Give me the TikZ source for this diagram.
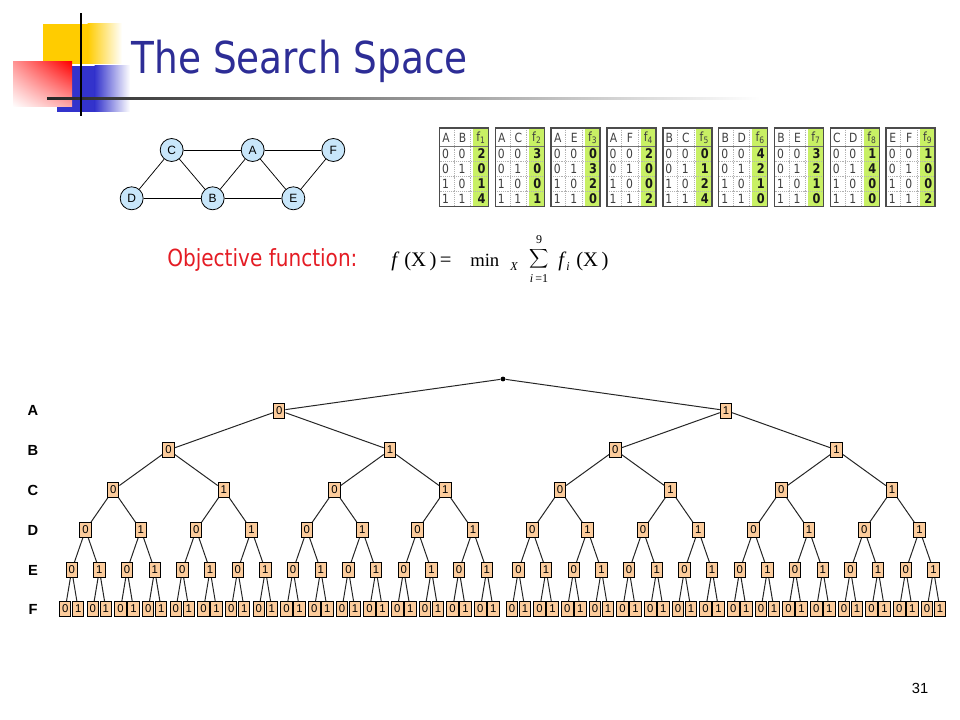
\documentclass[tikz,border=0pt]{standalone}
\usepackage{fontspec}
\usetikzlibrary{shadings}
\setmainfont{Liberation Sans}
\newfontfamily\tah[FakeStretch=0.85]{DejaVu Sans}
\newfontfamily\tms{Liberation Serif}
\definecolor{titleblue}{RGB}{45,45,150}
\definecolor{objred}{RGB}{228,28,36}
\definecolor{boxfill}{RGB}{252,204,156}
\definecolor{nodeblue}{RGB}{200,230,250}
\definecolor{tgreen}{RGB}{200,240,100}
\definecolor{logoyellow}{RGB}{255,204,0}
\definecolor{logoblue}{RGB}{51,51,204}
\definecolor{redul}{RGB}{255,150,150}
\definecolor{redlr}{RGB}{255,170,170}
\begin{document}
\begin{tikzpicture}[x=0.75pt,y=-0.75pt,
  tbox/.style={draw=black, line width=0.7pt, fill=boxfill, minimum width=8.6pt, minimum height=11.2pt, inner sep=0pt, font=\fontsize{8.5}{9}\selectfont},
  gnode/.style={circle, draw=black, line width=0.6pt, fill=nodeblue, minimum size=17.25pt, inner sep=0pt, font=\fontsize{9}{10}\selectfont},
  tedge/.style={line width=0.75pt, draw=black!85},
  gedge/.style={line width=0.55pt},
  lvl/.style={font=\bfseries\fontsize{11}{12}\selectfont},
  tcell/.style={inner sep=0pt, text=black!75, font=\tah\fontsize{9.5}{10}\selectfont},
  tval/.style={inner sep=0pt, text=black!90, font=\tah\bfseries\fontsize{10}{11}\selectfont},
  frm/.style={inner sep=0pt, anchor=base west, font=\tms\fontsize{15.5}{17}\selectfont},
  frms/.style={inner sep=0pt, anchor=base, font=\tms\fontsize{9}{10}\selectfont},
]
\useasboundingbox (0,0) rectangle (960,720);
% ---------- logo ----------
\fill[logoyellow] (43,24) rectangle (88,64);
\shade[left color=logoyellow, right color=white] (87.5,24) rectangle (122,64);
\fill[logoblue] (57,66) rectangle (95,112);
\shade[left color=logoblue, right color=white] (94.5,66) rectangle (130,112);
\shade[upper left=redul, upper right=red, lower left=white, lower right=redlr] (13,62) rectangle (72,107);
\shade[left color=black!85, right color=white] (47,97.2) rectangle (760,99.6);
\fill[black] (80,13) rectangle (82.2,116);
% ---------- title ----------
\node[inner sep=0pt, anchor=base west, text=titleblue, font=\tah\fontsize{33}{36}\selectfont] (title) at (131.5,73.3) {The Search Space};
% ---------- constraint graph ----------
\node[gnode] (C) at (171.7,150) {C};
\node[gnode] (A) at (252.7,150) {A};
\node[gnode] (F) at (333.3,150) {F};
\node[gnode] (D) at (131.7,198.3) {D};
\node[gnode] (B) at (212.7,198.3) {B};
\node[gnode] (E) at (293.3,198.3) {E};
\foreach \u/\v in {C/A,A/F,D/B,B/E,C/D,C/B,A/B,A/E,F/E} \draw[gedge] (\u) -- (\v);
% ---------- tables ----------
\foreach [count=\t from 0] \ha/\hb/\va/\vb/\vc/\vd in
  {A/B/2/0/1/4, A/C/3/0/0/1, A/E/0/3/2/0, A/F/2/0/0/2, B/C/0/1/2/4,
   B/D/4/2/1/0, B/E/3/2/1/0, C/D/1/4/0/0, E/F/1/0/0/2} {
  \pgfmathsetmacro\xo{439.5+55.84*\t}
  \pgfmathtruncatemacro\tn{\t+1}
  \fill[tgreen] (\xo+33.5,128) rectangle (\xo+49,206.5);
  \draw[black!30, densely dotted] (\xo+14.5,128) -- (\xo+14.5,206.5);
  \draw[black!30, densely dotted] (\xo+31,128) -- (\xo+31,206.5);
  \foreach \ry in {161,176,191} \draw[black!30, densely dotted] (\xo,\ry) -- (\xo+49,\ry);
  \draw[black!55, line width=0.7pt] (\xo,146) -- (\xo+49,146);
  \draw[black!70, line width=1.1pt] (\xo,128) rectangle (\xo+49,206.5);
  \node[tcell] (t\t h1) at (\xo+6.5,137.5) {\ha};
  \node[tcell] (t\t h2) at (\xo+23,137.5) {\hb};
  \node[tcell] (t\t h3) at (\xo+41.5,137.5) {f\textsubscript{\tn}};
  \foreach [count=\r from 0] \aa/\bb in {0/0,0/1,1/0,1/1} {
    \pgfmathsetmacro\ry{153.5+15*\r}
    \node[tcell] (t\t r\r a) at (\xo+6,\ry) {\aa};
    \node[tcell] (t\t r\r b) at (\xo+22.5,\ry) {\bb};
  }
  \node[tval] (t\t v0) at (\xo+42,153.5) {\va};
  \node[tval] (t\t v1) at (\xo+42,168.5) {\vb};
  \node[tval] (t\t v2) at (\xo+42,183.5) {\vc};
  \node[tval] (t\t v3) at (\xo+42,198.5) {\vd};
}
% ---------- objective ----------
\node[inner sep=0pt, anchor=base west, text=objred, font=\tah\fontsize{17.7}{20}\selectfont] (obj) at (167,267) {Objective function:};
\node[frm, font=\tms\itshape\fontsize{15.5}{17}\selectfont] (ff) at (391,267) {f};
\node[frm] (fx) at (404,267) {(X\,)\,=};
\node[frm, font=\tms\fontsize{14}{16}\selectfont] (fmin) at (470,267) {min};
\node[frms, font=\tms\itshape\fontsize{9}{10}\selectfont] (fsx) at (514,271) {X};
\node[inner sep=0pt] (fsum) at (539,259) {\fontsize{12.5}{14}\selectfont$\displaystyle\sum$};
\node[frms] (f9) at (539,243.5) {9};
\node[frms] (fi1) at (539,283) {\itshape i\upshape\,=1};
\node[frm, font=\tms\itshape\fontsize{15.5}{17}\selectfont] (ff2) at (558,267) {f};
\node[frms, font=\tms\itshape\fontsize{9}{10}\selectfont] (fsi) at (568,271) {i};
\node[frm] (fx2) at (576,267) {(X\,)};
% ---------- tree ----------
\node[circle, fill=black, inner sep=0pt, minimum size=3.6pt] (n-0-0) at (503,379) {};
\foreach \L/\yy in {1/410.5,2/450,3/490,4/530,5/570} {
  \pgfmathtruncatemacro\NN{2^\L}
  \pgfmathsetmacro\WW{32/\NN}
  \pgfmathtruncatemacro\Nm{\NN-1}
  \foreach \k in {0,...,\Nm} {
    \pgfmathsetmacro\cc{\k*\WW+(\WW-1)/2}
    \pgfmathsetmacro\xx{71.7+27.67*\cc+(\cc>15.9?4:0)}
    \pgfmathtruncatemacro\lab{mod(\k,2)}
    \node[tbox] (n-\L-\k) at (\xx,\yy) {\lab};
  }
}
\foreach \k in {0,...,63} {
  \pgfmathtruncatemacro\ee{floor(\k/2)}
  \pgfmathtruncatemacro\lab{mod(\k,2)}
  \pgfmathsetmacro\xx{71.7+27.67*\ee+(\ee>15?4:0)+(\lab==0?-6.5:6.5)}
  \node[tbox] (n-6-\k) at (\xx,609) {\lab};
}
\foreach \L in {1,...,6} {
  \pgfmathtruncatemacro\NN{2^\L}
  \pgfmathtruncatemacro\Nm{\NN-1}
  \pgfmathtruncatemacro\pL{\L-1}
  \foreach \k in {0,...,\Nm} {
    \pgfmathtruncatemacro\pk{floor(\k/2)}
    \draw[tedge] (n-\pL-\pk) -- (n-\L-\k);
  }
}
% ---------- level labels ----------
\node[lvl] (lA) at (33,410.5) {A};
\node[lvl] (lB) at (33,450) {B};
\node[lvl] (lC) at (33,490) {C};
\node[lvl] (lD) at (33,530) {D};
\node[lvl] (lE) at (33,570) {E};
\node[lvl] (lF) at (33,609) {F};
% ---------- page number ----------
\node[font=\fontsize{11}{12}\selectfont] (pg) at (920,688) {31};
\end{tikzpicture}
\end{document}
